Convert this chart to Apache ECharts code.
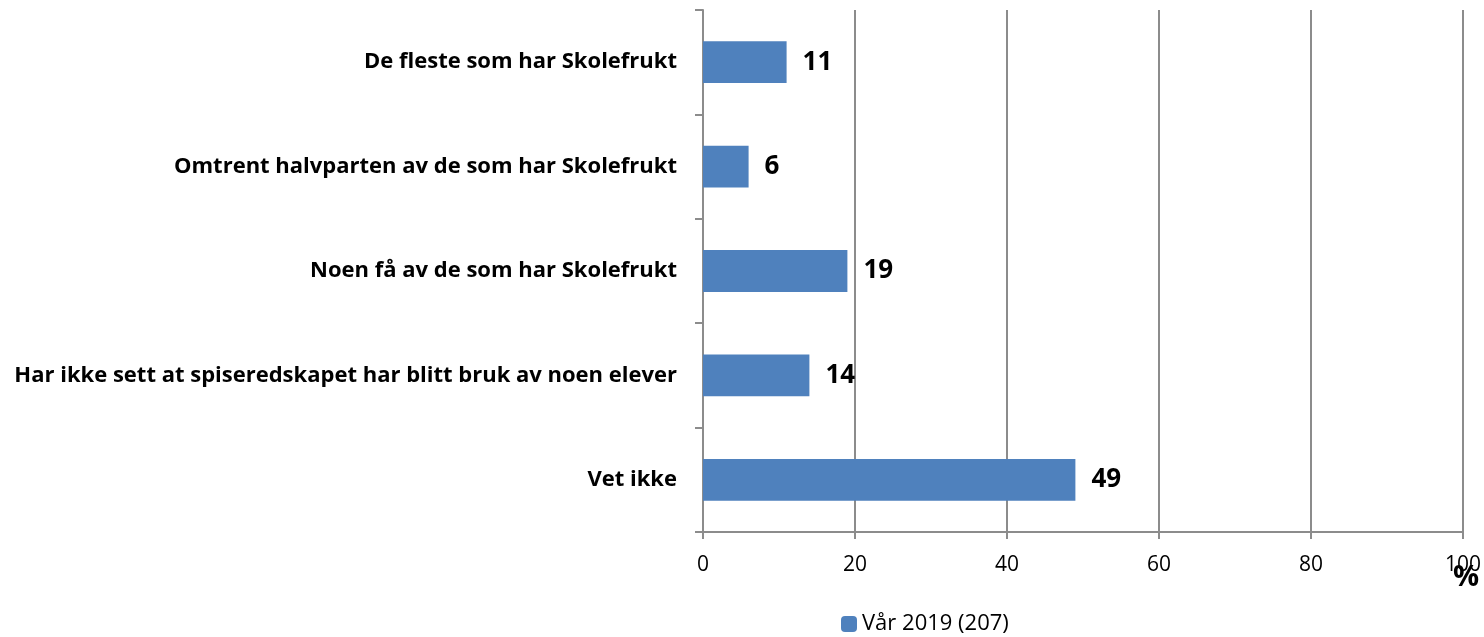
<!DOCTYPE html>
<html>
<head>
<meta charset="utf-8">
<script src="https://cdn.jsdelivr.net/npm/echarts@6/dist/echarts.min.js"></script>
<style>
  html, body { margin: 0; padding: 0; background: #fff; }
  #chart { width: 1484px; height: 637px; }
</style>
</head>
<body>
<div id="chart"></div>
<script>
var categories = [
    'De fleste som har Skolefrukt',
    'Omtrent halvparten av de som har Skolefrukt',
    'Noen få av de som har Skolefrukt',
    'Har ikke sett at spiseredskapet har blitt bruk av noen elever',
    'Vet ikke'
];
var values = [11, 6, 19, 14, 49];
var seriesName = 'Vår 2019 (207)';

var chart = echarts.init(document.getElementById('chart'));
var font = '"Open Sans", Lato, sans-serif';
var gray = '#8c8c8c';

chart.setOption({
    backgroundColor: '#ffffff',
    animation: false,
    textStyle: { fontFamily: font },
    grid: { left: 703, right: 21, top: 10, bottom: 105 },
    legend: {
        data: [seriesName],
        left: 836,
        top: 608,
        itemWidth: 16,
        itemHeight: 16,
        itemGap: 6,
        textStyle: { fontSize: 22, color: '#000', fontFamily: font }
    },
    xAxis: {
        type: 'value',
        min: 0,
        max: 100,
        interval: 20,
        axisLine: { show: true, lineStyle: { color: gray, width: 2 } },
        axisTick: { show: true, length: 7, lineStyle: { color: gray, width: 2 } },
        splitLine: { show: true, lineStyle: { color: gray, width: 2 } },
        axisLabel: { fontSize: 21, color: '#000', margin: 23 }
    },
    yAxis: {
        type: 'category',
        inverse: true,
        data: categories,
        axisLine: { show: true, lineStyle: { color: gray, width: 2 } },
        axisTick: { show: true, length: 8, lineStyle: { color: gray, width: 2 } },
        axisLabel: { fontSize: 22, fontWeight: 'bold', color: '#000', margin: 26 }
    },
    graphic: [{
        type: 'text',
        left: 1453,
        top: 563,
        style: { text: '%', fontSize: 29, fontWeight: 'bold', fill: '#000', fontFamily: font }
    }],
    series: [{
        name: seriesName,
        type: 'bar',
        data: values,
        barCategoryGap: '60%',
        itemStyle: { color: '#4f81bd' },
        label: {
            show: true,
            position: 'right',
            distance: 16,
            fontSize: 26,
            fontWeight: 'bold',
            color: '#000'
        }
    }]
});
</script>
</body>
</html>
